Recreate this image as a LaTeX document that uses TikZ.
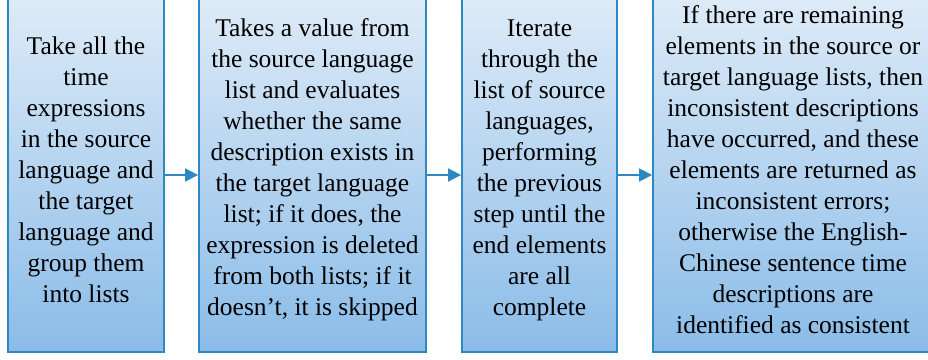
\documentclass[tikz,border=0pt]{standalone}
\usepackage{fontspec}
\setmainfont{Liberation Serif}
\usetikzlibrary{arrows.meta}
\definecolor{edgeblue}{RGB}{46,136,196}
\definecolor{filltop}{RGB}{224,236,248}
\definecolor{fillbot}{RGB}{138,188,232}
\tikzset{
  stepbox/.style={rectangle, draw=edgeblue, line width=1.8pt,
    top color=filltop, bottom color=fillbot,
    minimum height=364pt, inner sep=0pt, align=center,
    font=\fontsize{25.5}{31}\selectfont},
  flow/.style={draw=edgeblue, line width=1.6pt,
    -{Triangle[length=13pt,width=13pt]}, color=edgeblue}
}
\begin{document}
\begin{tikzpicture}[x=1pt,y=1pt]
\useasboundingbox (0,0) rectangle (928,359);
\clip (0,0) rectangle (928,359);
\node[stepbox, minimum width=156pt] (b1) at (86,189)
  {Take all the\\time\\expressions\\in the source\\language and\\the target\\language and\\group them\\into lists};
\node[stepbox, minimum width=227pt] (b2) at (312.5,189)
  {Takes a value from\\the source language\\list and evaluates\\whether the same\\description exists in\\the target language\\list; if it does, the\\expression is deleted\\from both lists; if it\\doesn't, it is skipped};
\node[stepbox, minimum width=155pt] (b3) at (539.5,189)
  {Iterate\\through the\\list of source\\languages,\\performing\\the previous\\step until the\\end elements\\are all\\complete};
\node[stepbox, minimum width=280pt] (b4) at (793,189)
  {If there are remaining\\elements in the source or\\target language lists, then\\inconsistent descriptions\\have occurred, and these\\elements are returned as\\inconsistent errors;\\otherwise the English-\\Chinese sentence time\\descriptions are\\identified as consistent};
\draw[flow] ([yshift=-5pt]b1.east) -- ([yshift=-5pt]b2.west);
\draw[flow] ([yshift=-5pt]b2.east) -- ([yshift=-5pt]b3.west);
\draw[flow] ([yshift=-5pt]b3.east) -- ([yshift=-5pt]b4.west);
\end{tikzpicture}
\end{document}
